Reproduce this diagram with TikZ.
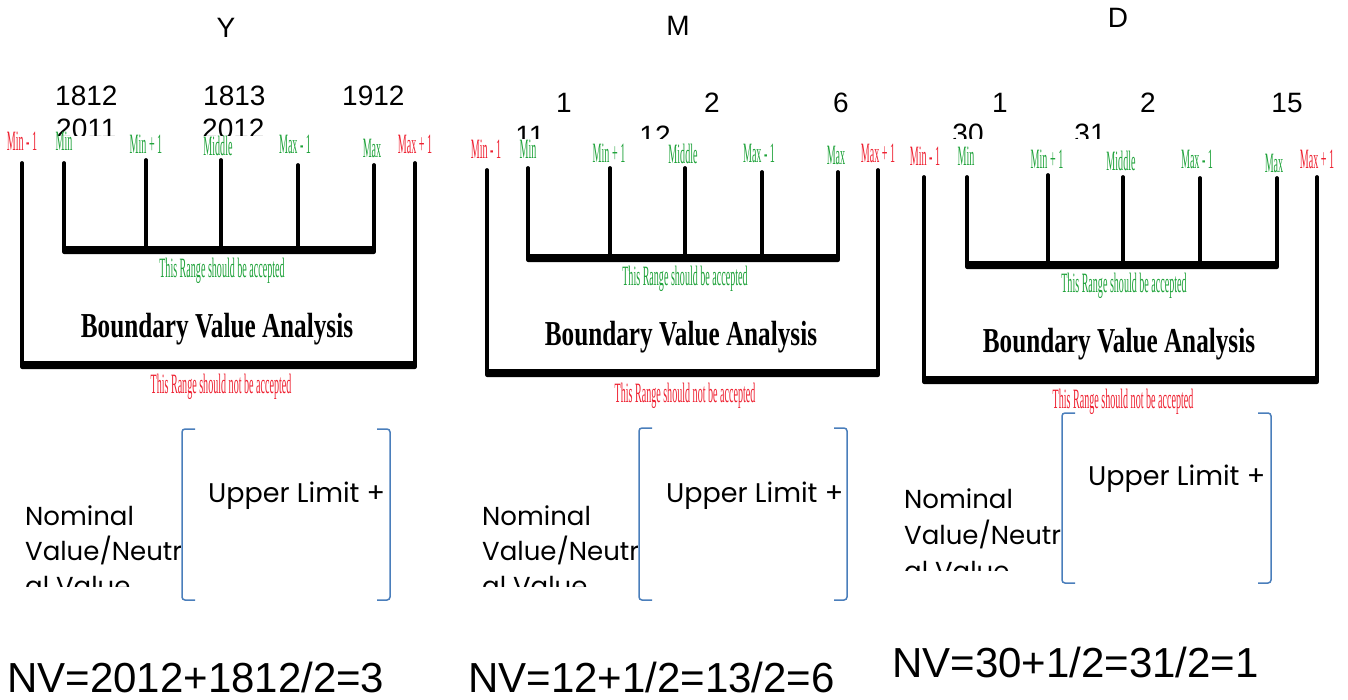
\documentclass[tikz,border=0pt]{standalone}
\usepackage{fontspec}
\setmainfont{Liberation Serif}
\newfontfamily\arialf{Liberation Sans}
\newfontfamily\gothf{Poppins}
\definecolor{lblgreen}{HTML}{1FA23A}
\definecolor{lblred}{HTML}{EE2030}
\definecolor{brblue}{HTML}{4A7EBB}
\newcommand\condtxt[1]{\scalebox{0.36}[1]{#1}}
\newcommand\bvatxt[1]{\scalebox{0.72}[1]{#1}}
\tikzset{
  num/.style={font=\arialf\fontsize{28}{28}\selectfont, inner sep=0pt, anchor=base},
  numw/.style={num, anchor=base west},
  gl/.style={text=lblgreen, font=\fontsize{28}{28}\selectfont, inner sep=0pt, anchor=base},
  rl/.style={text=lblred, font=\fontsize{28}{28}\selectfont, inner sep=0pt, anchor=base},
  bva/.style={font=\bfseries\fontsize{35}{35}\selectfont, inner sep=0pt, anchor=base},
  vline/.style={line width=3.8pt, line cap=round},
  barfill/.style={fill=black, rounded corners=2pt},
  brk/.style={draw=brblue, line width=1.5pt, rounded corners=3pt},
  goth/.style={font=\gothf\fontsize{26}{35}\selectfont, inner sep=0pt, anchor=base west},
  upl/.style={font=\gothf\fontsize{27}{35}\selectfont, inner sep=0pt, anchor=base west},
  nv/.style={font=\arialf\fontsize{42}{42}\selectfont, inner sep=0pt, anchor=base west},
}
\begin{document}
\begin{tikzpicture}[x=1pt,y=-1pt]
\useasboundingbox (0,0) rectangle (1348,699);

% ---------- titles ----------
\node[num] (tY) at (226,37) {Y};
\node[num] (tM) at (678,35) {M};
\node[num] (tD) at (1118,27) {D};

% ---------- number text boxes (clipped) ----------
\begin{scope}
\clip (40,60) rectangle (430,135);
\node[numw] (y1) at (55,105) {1812};
\node[numw] (y2) at (56,138) {2011};
\node[numw] (y3) at (203,105) {1813};
\node[numw] (y4) at (202,138) {2012};
\node[numw] (y5) at (342,105) {1912};
\end{scope}
\begin{scope}
\clip (470,60) rectangle (900,138);
\node[num] (m1) at (564,112) {1};
\node[num] (m2) at (712,112) {2};
\node[num] (m3) at (841,112) {6};
\node[num] (m4) at (530,145) {11};
\node[num] (m5) at (655,145) {12};
\end{scope}
\begin{scope}
\clip (900,60) rectangle (1340,138);
\node[num] (d1) at (1000,112) {1};
\node[num] (d2) at (1148,112) {2};
\node[num] (d3) at (1287,112) {15};
\node[num] (d4) at (968,143) {30};
\node[num] (d5) at (1090,143) {31};
\end{scope}

% ---------- panel 1 ----------
\node[rl] (a1) at (22,150) {\condtxt{Min - 1}};
\node[gl] (a2) at (64,150) {\condtxt{Min}};
\node[gl] (a3) at (146,153) {\condtxt{Min + 1}};
\node[gl] (a4) at (218,155) {\condtxt{Middle}};
\node[gl] (a5) at (295,153) {\condtxt{Max - 1}};
\node[gl] (a6) at (372,157) {\condtxt{Max}};
\node[rl] (a7) at (415,153) {\condtxt{Max + 1}};
\draw[vline] (22,163) -- (22,364);
\draw[vline] (415,163) -- (415,364);
\fill[barfill] (20.1,361) rectangle (416.9,369);
\draw[vline] (64,163) -- (64,249);
\draw[vline] (146,160) -- (146,249);
\draw[vline] (221,160) -- (221,249);
\draw[vline] (298,165) -- (298,249);
\draw[vline] (374,165) -- (374,249);
\fill[barfill] (62.1,246) rectangle (375.9,254);
\node[gl] (a8) at (222,277) {\condtxt{This Range should be accepted}};
\node[bva] (a9) at (217,337) {\bvatxt{Boundary Value Analysis}};
\node[rl] (a10) at (221,393) {\condtxt{This Range should not be accepted}};

% ---------- panel 2 ----------
\node[rl] (b1) at (486,158) {\condtxt{Min - 1}};
\node[gl] (b2) at (528,158) {\condtxt{Min}};
\node[gl] (b3) at (609,162) {\condtxt{Min + 1}};
\node[gl] (b4) at (683,163) {\condtxt{Middle}};
\node[gl] (b5) at (759,162) {\condtxt{Max - 1}};
\node[gl] (b6) at (836,164) {\condtxt{Max}};
\node[rl] (b7) at (878,162) {\condtxt{Max + 1}};
\draw[vline] (487,170) -- (487,372);
\draw[vline] (878,170) -- (878,372);
\fill[barfill] (485.1,369) rectangle (879.9,377);
\draw[vline] (528,168) -- (528,257);
\draw[vline] (610,168) -- (610,257);
\draw[vline] (685,168) -- (685,257);
\draw[vline] (762,172) -- (762,257);
\draw[vline] (838,172) -- (838,257);
\fill[barfill] (526.1,254) rectangle (839.9,262);
\node[gl] (b8) at (685,285) {\condtxt{This Range should be accepted}};
\node[bva] (b9) at (681,345) {\bvatxt{Boundary Value Analysis}};
\node[rl] (b10) at (685,402) {\condtxt{This Range should not be accepted}};

% ---------- panel 3 ----------
\node[rl] (c1) at (925,165) {\condtxt{Min - 1}};
\node[gl] (c2) at (966,165) {\condtxt{Min}};
\node[gl] (c3) at (1047,168) {\condtxt{Min + 1}};
\node[gl] (c4) at (1121,170) {\condtxt{Middle}};
\node[gl] (c5) at (1197,168) {\condtxt{Max - 1}};
\node[gl] (c6) at (1274,172) {\condtxt{Max}};
\node[rl] (c7) at (1317,168) {\condtxt{Max + 1}};
\draw[vline] (924,177) -- (924,379);
\draw[vline] (1317,177) -- (1317,379);
\fill[barfill] (922.1,376) rectangle (1318.9,384);
\draw[vline] (967,177) -- (967,264);
\draw[vline] (1048,175) -- (1048,264);
\draw[vline] (1123,177) -- (1123,264);
\draw[vline] (1200,178) -- (1200,264);
\draw[vline] (1277,178) -- (1277,264);
\fill[barfill] (965.1,261) rectangle (1278.9,269);
\node[gl] (c8) at (1124,292) {\condtxt{This Range should be accepted}};
\node[bva] (c9) at (1119,352) {\bvatxt{Boundary Value Analysis}};
\node[rl] (c10) at (1123,408) {\condtxt{This Range should not be accepted}};

% ---------- lower parts ----------
\draw[brk] (195,429) -- (182,429) -- (182,600) -- (195,600);
\draw[brk] (377,429) -- (390,429) -- (390,600) -- (377,600);
\node[upl] (u1) at (208,502) {Upper Limit +};
\begin{scope}
\clip (0,480) rectangle (180,586);
\node[goth] (n1a) at (25,525) {Nominal};
\node[goth] (n1b) at (25,560) {Value/Neutr};
\node[goth] (n1c) at (25,595) {al Value};
\end{scope}
\node[nv] (v1) at (7,692) {NV=2012+1812/2=3};

\draw[brk] (652,428) -- (639,428) -- (639,600) -- (652,600);
\draw[brk] (834,428) -- (847,428) -- (847,600) -- (834,600);
\node[upl] (u2) at (666,502) {Upper Limit +};
\begin{scope}
\clip (460,480) rectangle (637,586);
\node[goth] (n2a) at (482,525) {Nominal};
\node[goth] (n2b) at (482,560) {Value/Neutr};
\node[goth] (n2c) at (482,595) {al Value};
\end{scope}
\node[nv] (v2) at (468,692) {NV=12+1/2=13/2=6};

\draw[brk] (1075,413) -- (1062,413) -- (1062,583) -- (1075,583);
\draw[brk] (1258,413) -- (1271,413) -- (1271,583) -- (1258,583);
\node[upl] (u3) at (1088,485) {Upper Limit +};
\begin{scope}
\clip (880,460) rectangle (1060,570);
\node[goth] (n3a) at (904,508) {Nominal};
\node[goth] (n3b) at (904,544) {Value/Neutr};
\node[goth] (n3c) at (904,580) {al Value};
\end{scope}
\node[nv] (v3) at (892,677) {NV=30+1/2=31/2=1};
\end{tikzpicture}
\end{document}
